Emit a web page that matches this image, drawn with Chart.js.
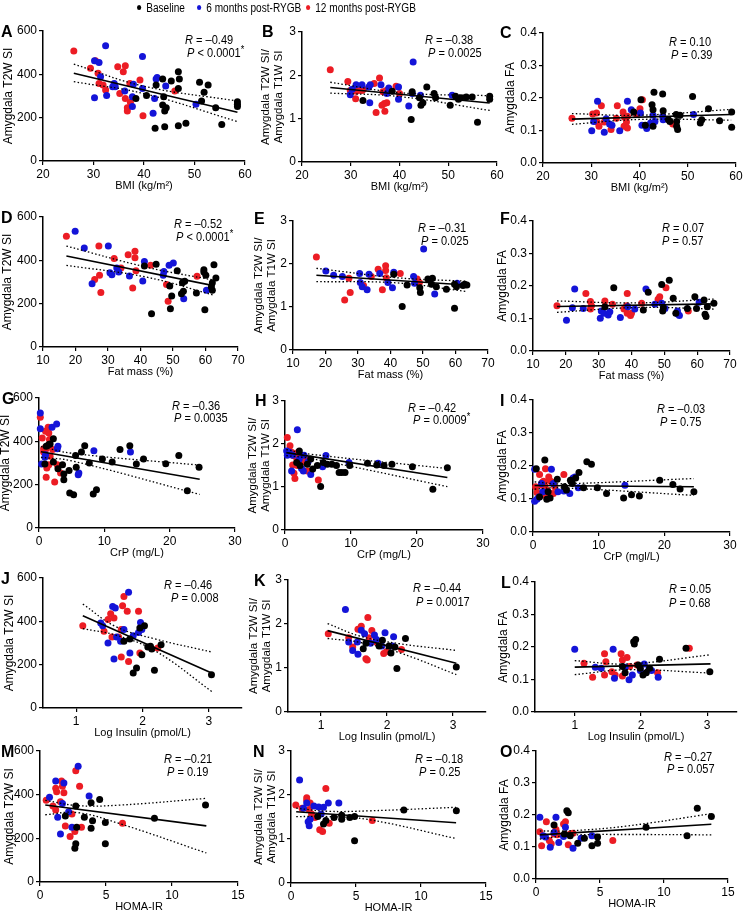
<!DOCTYPE html>
<html lang="en">
<head>
<meta charset="UTF-8">
<title>Amygdala signal vs metabolic measures</title>
<script src="https://cdn.jsdelivr.net/npm/chart.js"></script>
<style>
  body { margin:0; width:748px; height:911px; position:relative; overflow:hidden; background:#fff;
         font-family:"Liberation Sans", Arial, sans-serif; color:#000; }
  canvas { position:absolute; }
  .lbl { position:absolute; font-weight:bold; font-size:16px; line-height:16px; }
  .stat { position:absolute; font-size:12px; line-height:14px; white-space:nowrap;
          transform:scaleX(0.92); transform-origin:left center; }
  .stat sup { font-size:10px; vertical-align:4px; line-height:0; }
  .leg { position:absolute; top:1px; font-size:12px; line-height:14px; white-space:nowrap;
         transform:scaleX(0.84); transform-origin:left center; }
  .leg span { display:inline-block; width:5px; height:5px; border-radius:50%; margin-right:6px; vertical-align:2px; }
</style>
</head>
<body>
<script>
// series names and colours
const seriesNames = ['Baseline', '6 months post-RYGB', '12 months post-RYGB'];
const seriesColors = ['#000000', '#1414d8', '#ec1c24'];

// tick labels
const bmiTicks = [20, 30, 40, 50, 60];
const fatTicks = [10, 20, 30, 40, 50, 60, 70];
const crpTicks = [0, 10, 20, 30];
const insTicks = [1, 2, 3];
const homaTicks = [0, 5, 10, 15];
const t2wTicks = [0, 200, 400, 600];
const ratioTicks = [0, 1, 2, 3];
const faTicks = [0, 0.1, 0.2, 0.3, 0.4];

// A: BMI vs T2W SI
const A_base = [[38.4,289],[40.5,302],[42.4,351],[42.2,151],[43.7,378],[43.7,258],[44.1,231],[44.1,158],[43.9,297],[44.4,246],[45.4,369],[46.8,412],[47.0,378],[46.8,335],[46.8,163],[48.3,174],[51.0,363],[51.4,277],[51.9,317],[52.7,351],[54.2,246],[55.4,169],[58.5,273],[58.5,262],[58.5,252]];
const A_6m = [[32.4,532],[30.2,463],[31.1,455],[31.4,389],[30.2,292],[32.6,302],[33.8,343],[34.1,358],[34.3,343],[36.2,323],[37.9,354],[37.7,297],[37.7,251],[39.7,482],[39.7,335],[41.8,220],[42.1,289],[42.4,378],[42.6,385],[44.3,346],[50.3,262]];
const A_12m = [[26.1,508],[29.4,428],[30.4,463],[30.9,405],[31.1,358],[31.9,351],[32.4,328],[34.8,435],[35.2,312],[35.9,412],[36.3,440],[36.3,289],[36.7,246],[36.7,231],[37.2,358],[37.3,271],[39.2,374],[39.8,209],[46.1,323]];
const A_fit = [[26.1,405],[58.5,225]];
const A_hi = [[26.1,447],[40,345],[58.5,277]];
const A_lo = [[26.1,366],[40,311],[58.5,182]];

// B: BMI vs T2W/T1W
const B_base = [[32.5,1.42],[38.5,1.63],[42.6,1.62],[42.4,0.98],[44.1,1.48],[44.4,1.31],[44.8,1.37],[45.6,1.73],[47.1,1.58],[47.4,1.48],[50.4,1.31],[51.5,1.52],[52.1,1.45],[52.6,1.48],[53.7,1.50],[54.9,1.50],[56.0,0.92],[58.5,1.45],[58.5,1.52]];
const B_6m = [[29.9,1.55],[30.3,1.68],[31.1,1.78],[32.3,1.78],[33.7,1.73],[33.9,1.37],[34.0,1.78],[36.2,1.78],[37.4,1.58],[37.8,1.71],[39.8,1.73],[39.8,1.45],[41.9,1.29],[42.8,2.31],[42.6,1.58],[44.3,1.54],[50.8,1.54]];
const B_12m = [[25.8,2.13],[29.4,1.86],[29.9,1.65],[31.0,1.46],[31.1,1.63],[31.6,1.65],[32.3,1.65],[32.6,1.68],[34.8,1.81],[35.2,1.14],[35.9,1.94],[36.4,1.31],[36.6,1.62],[36.9,1.35],[37.0,1.17],[37.3,1.65],[37.4,1.37],[39.3,1.75],[40.0,1.58]];
const B_fit = [[25.8,1.72],[58.5,1.36]];
const B_hi = [[25.8,1.84],[40,1.60],[58.5,1.53]];
const B_lo = [[25.8,1.59],[40,1.51],[58.5,1.19]];

// C: BMI vs FA
const C_base = [[38.8,0.157],[40.3,0.195],[41.2,0.116],[43.0,0.218],[42.6,0.179],[42.8,0.164],[42.8,0.113],[44.8,0.212],[44.9,0.161],[46.0,0.133],[46.3,0.128],[47.6,0.149],[47.7,0.128],[47.7,0.113],[47.9,0.103],[48.4,0.147],[51.0,0.205],[52.6,0.123],[52.9,0.133],[54.3,0.167],[56.6,0.130],[59.1,0.157],[59.1,0.110]];
const C_6m = [[30.1,0.099],[30.5,0.128],[31.3,0.190],[32.7,0.095],[33.1,0.136],[33.8,0.120],[34.3,0.116],[35.9,0.099],[37.5,0.190],[38.3,0.164],[40.2,0.154],[40.5,0.116],[41.5,0.106],[42.3,0.123],[42.8,0.147],[43.2,0.128],[44.8,0.144],[44.9,0.133],[51.2,0.149]];
const C_12m = [[26.0,0.138],[30.3,0.151],[31.1,0.154],[31.2,0.126],[31.6,0.113],[32.1,0.176],[32.7,0.126],[34.1,0.103],[35.4,0.176],[35.2,0.138],[36.6,0.157],[36.8,0.113],[36.9,0.141],[37.3,0.126],[37.5,0.144],[37.5,0.108],[39.4,0.149],[40.1,0.167],[40.6,0.195],[46.9,0.120]];
const C_fit = [[26,0.135],[59,0.149]];
const C_hi = [[26,0.152],[40,0.147],[59,0.165]];
const C_lo = [[26,0.119],[40,0.134],[59,0.132]];

// D: fat mass vs T2W SI
const D_base = [[41.2,374],[43.4,154],[44.8,382],[49.0,282],[49.2,177],[49.6,235],[51.3,352],[52.6,246],[52.9,297],[53.2,257],[53.6,303],[57.2,249],[59.5,357],[59.5,346],[59.8,172],[60.1,331],[61.8,277],[62.1,297],[62.1,262],[62.6,380],[63.2,318]];
const D_6m = [[19.9,534],[22.7,457],[25.1,292],[30.1,466],[30.6,343],[31.2,334],[32.7,365],[33.3,346],[36.6,328],[40.7,305],[41.2,395],[47.2,349],[47.0,331],[48.8,377],[50.1,388],[53.3,223],[60.3,262]];
const D_12m = [[17.2,511],[25.9,312],[27.2,466],[27.4,331],[27.8,251],[31.9,408],[34.0,365],[36.2,426],[37.6,272],[38.3,442],[38.3,412],[38.6,352],[43.1,377],[48.0,288],[48.5,211],[57.4,326]];
const D_fit = [[17.2,420],[62.8,282]];
const D_hi = [[17.2,466],[42,368],[62.8,308]];
const D_lo = [[17.2,377],[42,322],[62.8,238]];

// E: fat mass vs T2W/T1W
const E_base = [[41.0,1.76],[43.6,1.01],[45.1,1.51],[49.0,1.45],[49.2,1.34],[51.5,1.65],[52.9,1.67],[52.6,1.53],[54.1,1.47],[57.2,1.41],[59.7,1.53],[59.7,0.97],[60.3,1.47],[62.3,1.50],[62.8,1.53],[63.5,1.51]];
const E_6m = [[20.1,1.84],[22.5,1.74],[25.2,1.71],[30.5,1.78],[30.7,1.57],[31.3,1.47],[32.8,1.40],[33.4,1.76],[36.7,1.78],[39.2,1.57],[40.6,1.45],[41.0,1.81],[47.1,1.71],[47.4,1.55],[50.2,2.35],[53.6,1.30],[60.5,1.55]];
const E_12m = [[17.2,2.16],[25.9,1.16],[27.2,1.67],[27.6,1.34],[31.7,1.50],[34.1,1.71],[36.2,1.88],[37.5,1.40],[38.5,1.96],[38.5,1.85],[38.7,1.68],[43.0,1.78],[48.2,1.65],[48.9,1.57]];
const E_fit = [[17.2,1.74],[63.3,1.51]];
const E_hi = [[17.2,1.90],[42,1.68],[63.3,1.60]];
const E_lo = [[17.2,1.59],[42,1.56],[63.3,1.36]];

// F: fat mass vs FA
const F_base = [[31.9,0.136],[34.6,0.195],[43.6,0.126],[45.1,0.181],[49.2,0.205],[49.5,0.123],[49.7,0.133],[51.5,0.218],[52.7,0.162],[53.5,0.116],[57.0,0.131],[59.3,0.167],[59.8,0.131],[62.1,0.157],[62.4,0.113],[62.7,0.106],[63.1,0.136],[65.1,0.147]];
const F_6m = [[20.2,0.095],[22.0,0.133],[22.7,0.191],[25.3,0.131],[30.5,0.101],[30.8,0.123],[31.6,0.116],[32.9,0.111],[33.4,0.121],[36.6,0.103],[38.9,0.136],[41.0,0.129],[44.4,0.191],[47.1,0.144],[49.2,0.147],[50.2,0.131],[54.0,0.123],[54.2,0.113],[54.6,0.109],[60.6,0.150]];
const F_12m = [[17.3,0.139],[26.1,0.177],[27.5,0.152],[27.5,0.129],[27.8,0.139],[31.9,0.154],[34.2,0.144],[37.7,0.129],[38.7,0.177],[38.5,0.139],[38.7,0.116],[39.7,0.109],[40.0,0.116],[43.1,0.147],[48.1,0.159],[48.6,0.167],[50.5,0.195],[57.3,0.123]];
const F_fit = [[17.3,0.137],[65.4,0.145]];
const F_hi = [[17.3,0.154],[42,0.148],[65.4,0.160]];
const F_lo = [[17.3,0.119],[42,0.134],[65.4,0.129]];

// G: CrP vs T2W SI
const G_base = [[0.9,295],[1.1,377],[1.5,385],[1.7,388],[2.2,412],[2.2,305],[2.9,274],[3.6,292],[3.8,249],[3.8,223],[4.6,265],[4.7,162],[5.3,154],[5.6,335],[5.7,280],[6.5,351],[7.0,380],[7.7,300],[8.3,157],[8.8,177],[9.7,318],[11.2,305],[12.4,362],[13.9,380],[14.9,295],[16.0,318],[19.4,297],[21.4,335],[22.7,172],[24.5,280]];
const G_6m = [[0.2,531],[0.2,458],[0.4,295],[0.9,326],[1.0,338],[2.0,465],[2.7,480],[2.9,377],[2.8,366],[6.0,246],[6.1,254],[8.4,357],[14.0,351]];
const G_12m = [[0.2,511],[0.5,415],[0.7,366],[0.7,351],[1.1,366],[1.0,446],[1.4,465],[1.5,438],[1.6,408],[1.7,331],[1.2,277],[1.1,234],[1.5,292],[2.1,362],[2.4,212],[2.8,292],[3.3,254]];
const G_fit = [[0.3,352],[24.6,225]];
const G_hi = [[0.3,376],[5,345],[24.6,290]];
const G_lo = [[0.3,326],[5,310],[24.6,155]];

// H: CrP vs T2W/T1W
const H_base = [[1.77,1.57],[2.17,1.84],[2.27,1.50],[3.38,1.53],[3.9,1.65],[4.2,1.42],[4.9,1.50],[5.4,1.01],[5.8,1.57],[6.4,1.53],[7.1,1.53],[7.8,1.50],[8.2,1.34],[8.6,1.34],[9.1,1.34],[9.8,1.50],[12.5,1.55],[13.9,1.51],[15.0,1.50],[16.2,1.53],[19.3,1.47],[22.4,0.95],[24.6,1.45]];
const H_6m = [[0.25,1.84],[0.35,1.74],[0.66,1.81],[1.0,1.37],[1.16,1.74],[1.87,2.33],[2.17,1.65],[2.5,1.43],[2.78,1.37],[2.88,1.74],[3.5,1.59],[3.9,1.29],[5.7,1.47],[6.2,1.73],[9.7,1.57],[14.1,1.55]];
const H_12m = [[0.35,2.15],[0.76,1.96],[1.0,1.81],[1.26,1.73],[1.36,1.32],[1.5,1.20],[1.16,1.51],[1.77,1.67],[2.0,1.81],[2.27,1.68],[1.87,1.50],[2.68,1.65],[2.88,1.59],[3.0,1.65],[3.38,1.37],[3.9,1.36],[5.05,1.16]];
const H_fit = [[0.2,1.80],[24.6,1.22]];
const H_hi = [[0.2,1.87],[4,1.76],[24.6,1.43]];
const H_lo = [[0.2,1.73],[4,1.66],[24.6,1.01]];

// I: CrP vs FA
const I_base = [[0.5,0.192],[1.0,0.106],[1.8,0.218],[2.1,0.099],[2.3,0.122],[2.6,0.103],[3.7,0.160],[4.8,0.137],[5.1,0.127],[5.7,0.157],[6.0,0.147],[6.5,0.164],[7.0,0.180],[7.7,0.134],[8.2,0.213],[8.9,0.205],[9.8,0.134],[11.2,0.117],[13.8,0.103],[15.0,0.113],[16.2,0.109],[19.3,0.157],[21.3,0.144],[22.4,0.130],[24.5,0.122]];
const I_6m = [[0.25,0.190],[0.25,0.093],[0.6,0.099],[0.9,0.106],[1.3,0.147],[1.5,0.122],[2.8,0.190],[3.1,0.147],[3.8,0.122],[4.7,0.124],[5.6,0.117],[6.1,0.164],[6.4,0.167],[6.9,0.134],[14.0,0.142]];
const I_12m = [[0.4,0.137],[0.6,0.120],[1.0,0.174],[1.3,0.142],[1.4,0.150],[1.6,0.154],[1.8,0.140],[1.9,0.192],[2.0,0.109],[2.1,0.127],[2.4,0.167],[2.5,0.157],[2.6,0.117],[2.8,0.152],[3.1,0.117],[3.3,0.137],[4.7,0.174]];
const I_fit = [[0.25,0.141],[24.5,0.137]];
const I_hi = [[0.25,0.152],[4,0.146],[24.5,0.162]];
const I_lo = [[0.25,0.130],[4,0.134],[24.5,0.111]];

// J: log insulin vs T2W SI
const J_base = [[1.72,308],[1.81,318],[1.86,162],[1.91,185],[1.96,369],[1.99,246],[2.03,380],[2.08,282],[2.12,285],[2.14,272],[2.18,174],[2.28,292],[3.04,154]];
const J_6m = [[1.37,392],[1.40,380],[1.48,300],[1.55,469],[1.59,462],[1.57,226],[1.61,328],[1.67,308],[1.72,362],[1.79,534],[1.81,254],[1.86,334],[1.94,349],[1.97,395],[1.99,362]];
const J_12m = [[1.10,380],[1.42,354],[1.48,408],[1.52,435],[1.57,415],[1.54,328],[1.64,328],[1.68,235],[1.70,472],[1.68,362],[1.72,515],[1.77,446],[1.79,215],[1.94,446],[1.96,254],[2.23,277]];
const J_fit = [[1.1,426],[3.05,160]];
const J_hi = [[1.1,480],[1.6,375],[2.2,318],[3.05,258]];
const J_lo = [[1.1,366],[1.6,336],[2.2,262],[3.05,75]];

// K: log insulin vs T2W/T1W
const K_base = [[1.64,1.44],[1.68,1.56],[1.88,1.50],[1.93,1.63],[2.03,1.50],[2.06,1.34],[2.12,1.48],[2.15,0.99],[2.28,1.67],[3.05,1.02]];
const K_6m = [[1.37,2.33],[1.42,1.59],[1.48,1.40],[1.55,1.59],[1.56,1.31],[1.61,1.86],[1.66,1.78],[1.75,1.56],[1.81,1.75],[1.84,1.65],[1.92,1.50],[1.97,1.80],[2.08,1.50],[2.10,1.71]];
const K_12m = [[1.11,1.78],[1.42,1.69],[1.48,1.48],[1.56,1.88],[1.61,1.95],[1.68,1.21],[1.70,1.18],[1.71,2.15],[1.73,1.69],[1.77,1.85],[1.83,1.59],[1.95,1.33],[1.99,1.37],[2.22,1.42]];
const K_fit = [[1.1,1.85],[3.05,1.11]];
const K_hi = [[1.1,2.01],[1.6,1.72],[2.2,1.55],[3.05,1.40]];
const K_lo = [[1.1,1.67],[1.6,1.58],[2.2,1.34],[3.05,0.85]];

// L: log insulin vs FA
const L_base = [[1.72,0.140],[1.76,0.121],[1.89,0.216],[1.92,0.223],[1.90,0.209],[1.96,0.145],[1.99,0.135],[2.03,0.114],[2.08,0.121],[2.13,0.135],[2.28,0.162],[2.68,0.196],[3.04,0.124]];
const L_6m = [[1.0,0.193],[1.31,0.138],[1.40,0.135],[1.58,0.193],[1.60,0.104],[1.76,0.138],[1.82,0.099],[1.87,0.114],[1.99,0.128],[2.05,0.148],[2.12,0.132],[2.16,0.128],[2.26,0.107]];
const L_12m = [[1.14,0.150],[1.27,0.107],[1.45,0.179],[1.47,0.155],[1.45,0.114],[1.56,0.124],[1.61,0.114],[1.70,0.179],[1.72,0.160],[1.72,0.111],[1.79,0.168],[1.83,0.140],[1.94,0.145],[2.25,0.121],[2.73,0.196]];
const L_fit = [[1.0,0.138],[3.05,0.148]];
const L_hi = [[1.0,0.158],[1.8,0.148],[3.05,0.176]];
const L_lo = [[1.0,0.115],[1.8,0.130],[3.05,0.120]];

// M: HOMA-IR vs T2W SI
const M_base = [[1.92,302],[2.64,155],[2.71,175],[2.71,348],[2.78,251],[3.36,296],[3.87,363],[3.87,246],[3.98,281],[4.52,378],[4.95,272],[4.95,175],[8.67,292],[12.54,353]];
const M_6m = [[0.72,388],[1.19,463],[1.34,296],[1.55,220],[1.70,360],[1.81,454],[2.17,322],[2.42,251],[2.89,530],[3.72,394]];
const M_12m = [[0.47,375],[0.98,348],[1.19,429],[1.26,413],[1.55,368],[1.63,463],[1.70,439],[1.81,409],[1.92,257],[2.28,208],[2.64,231],[2.71,509],[3.0,439],[3.14,251],[6.25,269],[2.42,312],[1.19,330]];
const M_fit = [[0.4,353],[12.6,257]];
const M_hi = [[0.4,374],[2.8,350],[6,352],[12.6,383]];
const M_lo = [[0.4,308],[2.8,318],[6,268],[12.6,133]];

// N: HOMA-IR vs T2W/T1W
const N_base = [[2.06,1.51],[2.5,1.34],[2.68,1.42],[3.31,1.49],[3.90,1.54],[3.90,1.45],[4.52,1.49],[4.89,1.51],[4.89,0.96],[8.68,1.66],[12.72,1.64]];
const N_6m = [[0.66,2.34],[0.96,1.70],[1.21,1.82],[1.32,1.39],[1.40,1.30],[1.47,1.45],[1.76,1.75],[2.13,1.73],[2.32,1.57],[2.5,1.72],[2.87,1.82],[3.68,1.82]];
const N_12m = [[0.37,1.77],[0.85,1.70],[1.21,1.94],[1.21,1.88],[1.40,1.67],[1.47,1.82],[1.58,1.57],[1.84,1.49],[2.21,1.21],[2.43,1.17],[2.68,2.15],[2.94,1.36],[6.25,1.42]];
const N_fit = [[0.4,1.62],[12.7,1.37]];
const N_hi = [[0.4,1.70],[2.8,1.63],[6,1.64],[12.7,1.72]];
const N_lo = [[0.4,1.51],[2.8,1.51],[6,1.44],[12.7,1.01]];

// O: HOMA-IR vs FA
const O_base = [[1.41,0.169],[2.22,0.141],[2.41,0.213],[2.52,0.207],[2.67,0.135],[3.26,0.112],[3.78,0.127],[4.37,0.104],[4.81,0.131],[4.81,0.112],[8.6,0.162],[11.8,0.135],[12.6,0.221],[13.7,0.195]];
const O_6m = [[0.3,0.193],[0.56,0.135],[0.74,0.131],[1.11,0.099],[1.41,0.145],[1.56,0.193],[1.78,0.114],[2.15,0.133],[2.30,0.162],[2.89,0.096],[3.52,0.127],[4.37,0.135]];
const O_12m = [[0.3,0.148],[0.44,0.104],[0.81,0.179],[1.04,0.120],[1.19,0.110],[1.41,0.141],[1.56,0.155],[1.67,0.138],[2.15,0.172],[2.30,0.179],[2.52,0.107],[2.67,0.141],[2.89,0.143],[6.0,0.120]];
const O_fit = [[0.3,0.138],[13.7,0.171]];
const O_hi = [[0.3,0.150],[2.8,0.151],[7,0.165],[13.7,0.204]];
const O_lo = [[0.3,0.125],[2.8,0.137],[7,0.139],[13.7,0.138]];

// stats text
const statsR = {A:'–0.49',B:'–0.38',C:'0.10',D:'–0.52',E:'–0.31',F:'0.07',G:'–0.36',H:'–0.42',I:'–0.03',J:'–0.46',K:'–0.44',L:'0.05',M:'–0.21',N:'–0.18',O:'–0.27'};
const statsP = {A:'< 0.0001*',B:'= 0.0025',C:'= 0.39',D:'< 0.0001*',E:'= 0.025',F:'= 0.57',G:'= 0.0035',H:'= 0.0009*',I:'= 0.75',J:'= 0.008',K:'= 0.0017',L:'= 0.68',M:'= 0.19',N:'= 0.25',O:'= 0.057'};

const FONT = '"Liberation Sans", Arial, sans-serif';
const t2wTitle = 'Amygdala T2W SI';
const ratioTitle = ['Amygdala T2W SI/', 'Amygdala T1W SI'];
const faTitle = 'Amygdala FA';

// layout: box = [axisX, plotTop, plotRight, plotBottom, yTitleX]; stat = [rx, ry, px, py]; letter = [x, y]
const panels = [
  {id:'A', d:[A_base,A_6m,A_12m,A_fit,A_hi,A_lo], x:[20,60,bmiTicks,'BMI (kg/m²)'], y:[0,600,t2wTicks,t2wTitle], box:[43,31,245,161,9], stat:[185,40,187,53], letter:[1,24]},
  {id:'B', d:[B_base,B_6m,B_12m,B_fit,B_hi,B_lo], x:[20,60,bmiTicks,'BMI (kg/m²)'], y:[0,3,ratioTicks,ratioTitle], box:[302,32,497,162,266], stat:[425,40,428,53], letter:[262,24]},
  {id:'C', d:[C_base,C_6m,C_12m,C_fit,C_hi,C_lo], x:[20,60,bmiTicks,'BMI (kg/m²)'], y:[0,0.4,faTicks,faTitle], box:[543,33,736,163,511], stat:[669,42,671,55], letter:[500,25]},
  {id:'D', d:[D_base,D_6m,D_12m,D_fit,D_hi,D_lo], x:[10,70,fatTicks,'Fat mass (%)'], y:[0,600,t2wTicks,t2wTitle], box:[43,217,238,347,8], stat:[174,224,176,237], letter:[1,210]},
  {id:'E', d:[E_base,E_6m,E_12m,E_fit,E_hi,E_lo], x:[10,70,fatTicks,'Fat mass (%)'], y:[0,3,ratioTicks,ratioTitle], box:[293,221,488,350,259], stat:[418,228,421,241], letter:[254,211]},
  {id:'F', d:[F_base,F_6m,F_12m,F_fit,F_hi,F_lo], x:[10,70,fatTicks,'Fat mass (%)'], y:[0,0.4,faTicks,faTitle], box:[533,221,730,351,503], stat:[662,228,662,241], letter:[500,211]},
  {id:'G', d:[G_base,G_6m,G_12m,G_fit,G_hi,G_lo], x:[0,30,crpTicks,'CrP (mg/L)'], y:[0,600,t2wTicks,t2wTitle], box:[39,398,235,528,6], stat:[172,406,174,418], letter:[2,391]},
  {id:'H', d:[H_base,H_6m,H_12m,H_fit,H_hi,H_lo], x:[0,30,crpTicks,'CrP (mg/L)'], y:[0,3,ratioTicks,ratioTitle], box:[285,401,483,530,253], stat:[408,408,413,420], letter:[255,393]},
  {id:'I', d:[I_base,I_6m,I_12m,I_fit,I_hi,I_lo], x:[0,30,crpTicks,'CrP (mgl/L)'], y:[0,0.4,faTicks,faTitle], box:[533,400,730,532,503], stat:[657,409,660,422], letter:[500,393]},
  {id:'J', d:[J_base,J_6m,J_12m,J_fit,J_hi,J_lo], x:[0.5,3.5,insTicks,'Log Insulin (pmol/L)'], y:[0,600,t2wTicks,t2wTitle], box:[43,578,242,708,10], stat:[164,585,171,598], letter:[1,571]},
  {id:'K', d:[K_base,K_6m,K_12m,K_fit,K_hi,K_lo], x:[0.5,3.5,insTicks,'Log Insulin (pmol/L)'], y:[0,3,ratioTicks,ratioTitle], box:[288,580,486,712,254], stat:[413,588,416,602], letter:[254,573]},
  {id:'L', d:[L_base,L_6m,L_12m,L_fit,L_hi,L_lo], x:[0.4,3.45,insTicks,'Log Insulin (pmol/L)'], y:[0,0.4,faTicks,faTitle], box:[535,582,737,712,504], stat:[669,589,669,603], letter:[501,575]},
  {id:'M', d:[M_base,M_6m,M_12m,M_fit,M_hi,M_lo], x:[0,15,homaTicks,'HOMA-IR'], y:[0,600,t2wTicks,t2wTitle], box:[40,751,238,882,10], stat:[164,759,167,772], letter:[1,744]},
  {id:'N', d:[N_base,N_6m,N_12m,N_fit,N_hi,N_lo], x:[0,15,homaTicks,'HOMA-IR'], y:[0,3,ratioTicks,ratioTitle], box:[291,751,486,883,259], stat:[415,759,419,772], letter:[253,744]},
  {id:'O', d:[O_base,O_6m,O_12m,O_fit,O_hi,O_lo], x:[0,15,homaTicks,'HOMA-IR'], y:[0,0.4,faTicks,faTitle], box:[536,751,728,879,505], stat:[664,757,667,769], letter:[500,744]}
];

const xy = arr => arr.map(p => ({x: p[0], y: p[1]}));

function addDiv(cls, html, left, top) {
  const el = document.createElement('div');
  el.className = cls;
  el.innerHTML = html;
  el.style.left = left + 'px';
  el.style.top = top + 'px';
  document.body.appendChild(el);
  return el;
}

function makeAxis(min, max, ticks, title, isY, size) {
  const twoLine = Array.isArray(title);
  return {
    type: 'linear', min: min, max: max,
    afterBuildTicks: s => { s.ticks = ticks.map(v => ({value: v})); },
    afterFit: s => { if (isY) s.width = size; else s.height = size; },
    grid: {display: true, drawOnChartArea: false, drawTicks: true, tickLength: 4, color: '#000', lineWidth: 1.2},
    border: {display: true, color: '#000', width: 1.5},
    ticks: {
      color: '#000', padding: 2, autoSkip: false, maxRotation: 0,
      font: {family: FONT, size: 12},
      callback: v => (max < 1 ? v.toFixed(1) : v)
    },
    title: {
      display: true, text: title, color: '#000',
      font: {family: FONT, size: isY ? (twoLine ? 11.5 : 12) : 11, lineHeight: 1.15},
      padding: {top: 1, bottom: 0}
    }
  };
}

function buildPanel(p) {
  const [axisX, top, right, bottom, titleX] = p.box;
  const padTop = 10, padRight = 14, xH = 31;
  const left = Math.round(titleX - 8);
  const yW = axisX - left;
  const w = right - left + padRight;
  const h = padTop + (bottom - top) + xH;

  const cv = document.createElement('canvas');
  cv.width = w; cv.height = h;
  cv.style.left = left + 'px';
  cv.style.top = (top - padTop) + 'px';
  cv.style.width = w + 'px';
  cv.style.height = h + 'px';
  document.body.appendChild(cv);

  const [base, six, twelve, fit, hi, lo] = p.d;
  const pts = (data, i) => ({
    label: seriesNames[i], data: xy(data), order: 1 + i,
    backgroundColor: seriesColors[i], pointRadius: 3.5, pointBorderWidth: 0, showLine: false, clip: false
  });
  const band = data => ({
    data: xy(data), order: 0, showLine: true, pointRadius: 0, borderColor: '#000',
    borderWidth: 1.3, borderDash: [1.5, 2.2], tension: 0.4, fill: false, clip: false
  });

  new Chart(cv, {
    type: 'scatter',
    data: {
      datasets: [
        {data: xy(fit), order: 0, showLine: true, pointRadius: 0, borderColor: '#000', borderWidth: 1.6, fill: false},
        band(hi), band(lo),
        pts(base, 0), pts(six, 1), pts(twelve, 2)
      ]
    },
    options: {
      responsive: false, animation: false, events: [],
      layout: {padding: {top: padTop, right: padRight, bottom: 0, left: 0}},
      plugins: {legend: {display: false}, tooltip: {enabled: false}},
      scales: {
        x: makeAxis(p.x[0], p.x[1], p.x[2], p.x[3], false, xH),
        y: makeAxis(p.y[0], p.y[1], p.y[2], p.y[3], true, yW)
      }
    }
  });

  // panel letter and statistics
  addDiv('lbl', p.id, p.letter[0], p.letter[1]);
  addDiv('stat', '<i>R</i> = ' + statsR[p.id], p.stat[0], p.stat[1] - 7);
  const pTxt = statsP[p.id].replace('<', '&lt;').replace('*', '<sup>*</sup>');
  addDiv('stat', '<i>P</i> ' + pTxt, p.stat[2], p.stat[3] - 7);
}

panels.forEach(buildPanel);

// legend
const legendX = [137, 197, 306];
seriesNames.forEach((name, i) => {
  addDiv('leg', '<span style="background:' + seriesColors[i] + '"></span>' + name, legendX[i], 1);
});
</script>
</body>
</html>
